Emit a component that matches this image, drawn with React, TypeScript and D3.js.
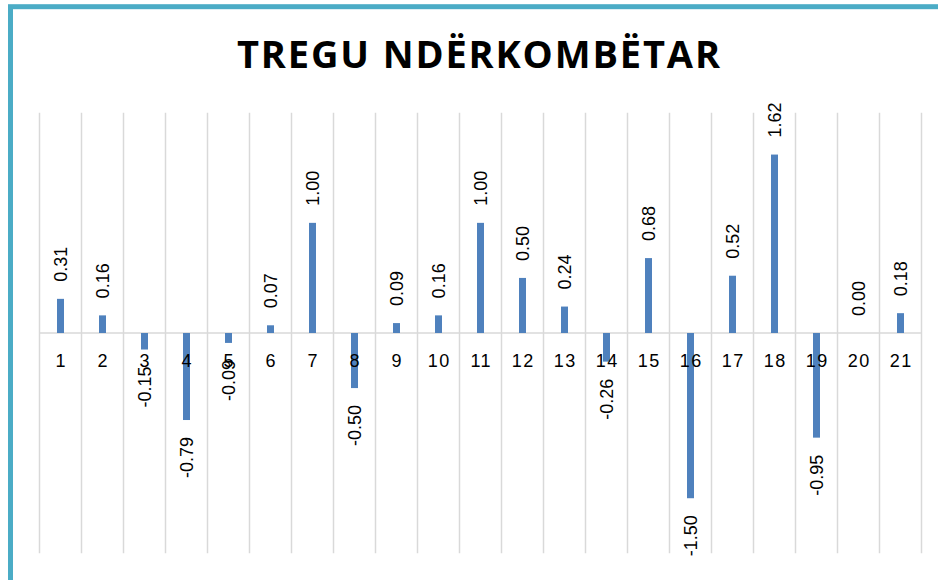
import { scaleBand, scaleLinear } from "d3";

const categories = ["1", "2", "3", "4", "5", "6", "7", "8", "9", "10", "11", "12", "13", "14", "15", "16", "17", "18", "19", "20", "21"];
const values = [0.31, 0.16, -0.15, -0.79, -0.09, 0.07, 1.0, -0.5, 0.09, 0.16, 1.0, 0.5, 0.24, -0.26, 0.68, -1.5, 0.52, 1.62, -0.95, 0.0, 0.18];
const yDomain = [-2, 2];
const title = "TREGU NDËRKOMBËTAR";

const App = () => {
    const width = 938;
    const height = 580;
    const plot = { left: 39.5, right: 921.5, top: 112.7, bottom: 553.3 };

    const scaleX = scaleBand()
        .domain(categories)
        .range([plot.left, plot.right])
        .padding(0);

    const scaleY = scaleLinear()
        .domain(yDomain)
        .range([plot.bottom, plot.top]);

    const barWidth = 7;
    const gap = 17;
    const zeroY = scaleY(0);
    const bounds = [...categories.map((c) => scaleX(c) as number), plot.right];

    return (
        <svg width={width} height={height} style={{ position: "absolute", left: 0, top: 0, background: "#fff" }}>
            <rect x={10.5} y={6.7} width={1000} height={1000} fill="#fff" stroke="#4bacc6" strokeWidth={5} />
            <text
                x={237}
                y={68.3}
                textLength={483}
                lengthAdjust="spacing"
                fontFamily="'Open Sans', sans-serif"
                fontWeight="bold"
                fontSize={38}
                fill="#000"
            >
                {title}
            </text>
            {/* vertical gridlines at category boundaries */}
            {bounds.map((x, i) => (
                <line key={`grid-${i}`} x1={x} x2={x} y1={plot.top} y2={plot.bottom} stroke="#d9d9d9" strokeWidth={1.5} />
            ))}
            <line x1={plot.left} x2={plot.right} y1={zeroY} y2={zeroY} stroke="#d9d9d9" strokeWidth={1.5} />
            {categories.map((c, i) => {
                const v = values[i];
                const cx = (scaleX(c) as number) + scaleX.bandwidth() / 2;
                const y0 = scaleY(Math.max(0, v));
                const y1 = scaleY(Math.min(0, v));
                return (
                    <rect key={`bar-${c}`} x={cx - barWidth / 2} y={y0} width={barWidth} height={y1 - y0} fill="#4f81bd" />
                );
            })}
            {categories.map((c) => {
                const cx = (scaleX(c) as number) + scaleX.bandwidth() / 2;
                return (
                    <text
                        key={`cat-${c}`}
                        x={cx + 0.75}
                        y={367}
                        textAnchor="middle"
                        fontFamily="'Liberation Sans', Arial, sans-serif"
                        fontSize={18}
                        letterSpacing={1.5}
                        fill="#000"
                    >
                        {c}
                    </text>
                );
            })}
            {categories.map((c, i) => {
                const v = values[i];
                const cx = (scaleX(c) as number) + scaleX.bandwidth() / 2;
                const neg = v < 0;
                const ty = neg ? scaleY(v) + gap : scaleY(v) - gap;
                return (
                    <text
                        key={`val-${c}`}
                        transform={`translate(${cx}, ${ty}) rotate(-90)`}
                        textAnchor={neg ? "end" : "start"}
                        dominantBaseline="central"
                        fontFamily="'Liberation Sans', Arial, sans-serif"
                        fontSize={18}
                        fill="#000"
                    >
                        {v.toFixed(2)}
                    </text>
                );
            })}
        </svg>
    );
};

export default App;
